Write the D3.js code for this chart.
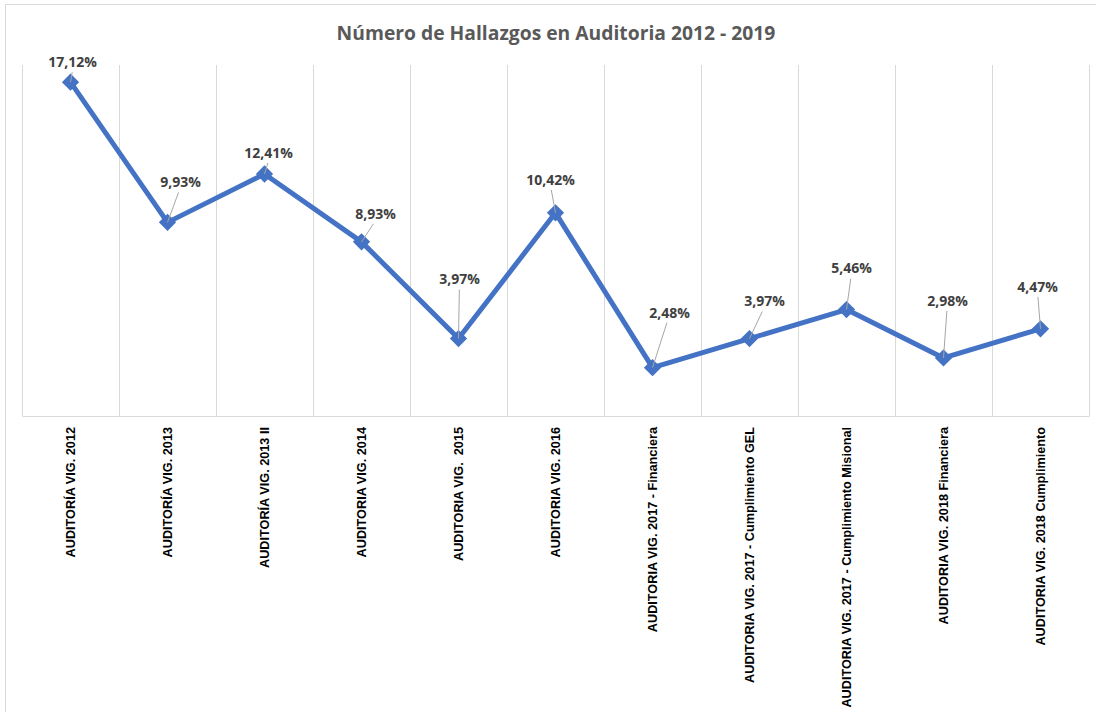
<!DOCTYPE html>
<html>
<head>
<meta charset="utf-8">
<script src="https://cdn.jsdelivr.net/npm/d3@7"></script>
<style>
  body { margin: 0; background: #fff; }
  svg { display: block; font-family: "Open Sans", "Liberation Sans", sans-serif; }
</style>
</head>
<body>
<div class="chart"></div>
<script>
// DATA
// ----------------------------
const categories = [
  'AUDITORÍA VIG. 2012',
  'AUDITORÍA VIG. 2013',
  'AUDITORÍA VIG. 2013 II',
  'AUDITORIA VIG. 2014',
  'AUDITORIA VIG.  2015',
  'AUDITORIA VIG. 2016',
  'AUDITORIA VIG. 2017 - Financiera',
  'AUDITORIA VIG. 2017 - Cumplimiento GEL',
  'AUDITORIA VIG. 2017 - Cumplimiento Misional',
  'AUDITORIA VIG. 2018 Financiera',
  'AUDITORIA VIG. 2018 Cumplimiento'
]
const values = [17.12, 9.93, 12.41, 8.93, 3.97, 10.42, 2.48, 3.97, 5.46, 2.98, 4.47]
const title = 'Número de Hallazgos en Auditoria 2012 - 2019'

// where the data labels were dragged to (dx, dy from the point)
const labelNudge = [
  [2, -20], [13, -40], [4, -21], [14, -28], [1, -59], [-5, -33],
  [17, -55], [15, -37], [5, -41], [4, -57], [-3, -42]
]

// SETUP
// ----------------------------
const fullWidth = 1096
const fullHeight = 712
const margin = { top: 65, bottom: 296, left: 22, right: 7 }
const width = fullWidth - margin.left - margin.right
const height = fullHeight - margin.top - margin.bottom

const svg = d3.select('.chart')
  .append('svg')
    .attr('width', fullWidth)
    .attr('height', fullHeight)

// chart frame
svg.append('rect')
  .attr('x', 5.5).attr('y', 4.5)
  .attr('width', fullWidth + 10).attr('height', fullHeight + 10)
  .attr('fill', 'none')
  .attr('stroke', '#d9d9d9')

svg.append('text')
  .attr('x', 556).attr('y', 40)
  .attr('text-anchor', 'middle')
  .style('font-size', '19.3px')
  .style('font-weight', 'bold')
  .style('fill', '#595959')
  .text(title)

const g = svg.append('g')
  .attr('transform', `translate(${margin.left}, ${margin.top})`)

// SCALES
// ----------------------------
const xScale = d3.scaleBand()
  .domain(categories)
  .range([0, width])
const yScale = d3.scaleLinear()
  .domain([0, 18])
  .range([height, 0])

// GRID + AXIS
// ----------------------------
const edges = categories.map(c => xScale(c)).concat([width])
g.selectAll('.vgrid')
  .data(edges)
  .enter()
  .append('line')
    .attr('class', 'vgrid')
    .attr('x1', d => Math.round(d) + 0.5)
    .attr('x2', d => Math.round(d) + 0.5)
    .attr('y1', 0)
    .attr('y2', height)
    .attr('stroke', '#d9d9d9')
    .attr('stroke-width', 1)

const xAxis = d3.axisBottom(xScale)
  .tickSize(0)
  .tickPadding(0)
const xg = g.append('g')
  .attr('transform', `translate(0, ${height})`)
  .call(xAxis)
xg.select('.domain').attr('stroke', '#d9d9d9').attr('d', `M0.5,0.5H${width + 0.5}`)
xg.selectAll('text')
  .attr('transform', 'rotate(-90)')
  .attr('x', -11)
  .attr('y', 0)
  .attr('dy', '0.35em')
  .style('text-anchor', 'end')
  .style('white-space', 'pre')
  .style('font-family', '"Liberation Sans", Arial, sans-serif')
  .style('font-size', '12.7px')
  .style('font-weight', 'bold')
  .style('fill', '#000')

// LINE + MARKERS
// ----------------------------
const cx = (d, i) => xScale(categories[i]) + xScale.bandwidth() / 2
const cy = d => yScale(d)

const line = d3.line()
  .x(cx)
  .y(cy)

g.append('path')
  .datum(values)
  .attr('d', line)
  .attr('fill', 'none')
  .attr('stroke', '#4472c4')
  .attr('stroke-width', 5)
  .attr('stroke-linejoin', 'round')

g.selectAll('.marker')
  .data(values)
  .enter()
  .append('path')
    .attr('class', 'marker')
    .attr('d', d3.symbol(d3.symbolDiamond2, 190))
    .attr('transform', (d, i) => `translate(${cx(d, i)}, ${cy(d)})`)
    .attr('fill', '#4472c4')

// DATA LABELS + LEADERS
// ----------------------------
const fmt = d3.formatLocale({ decimal: ',', thousands: '.', grouping: [3], currency: ['', ''] })
  .format('.2f')

g.selectAll('.leader')
  .data(values)
  .enter()
  .append('line')
    .attr('class', 'leader')
    .attr('x1', (d, i) => cx(d, i) + labelNudge[i][0] * 0.85)
    .attr('y1', (d, i) => cy(d) + labelNudge[i][1] + 10)
    .attr('x2', (d, i) => cx(d, i))
    .attr('y2', d => cy(d))
    .attr('stroke', '#a6a6a6')
    .attr('stroke-width', 1)

g.selectAll('.label')
  .data(values)
  .enter()
  .append('text')
    .attr('class', 'label')
    .attr('x', (d, i) => cx(d, i) + labelNudge[i][0])
    .attr('y', (d, i) => cy(d) + labelNudge[i][1])
    .attr('dy', '0.35em')
    .attr('text-anchor', 'middle')
    .style('font-size', '14px')
    .style('font-weight', 'bold')
    .style('fill', '#404040')
    .text(d => fmt(d) + '%')
</script>
</body>
</html>
